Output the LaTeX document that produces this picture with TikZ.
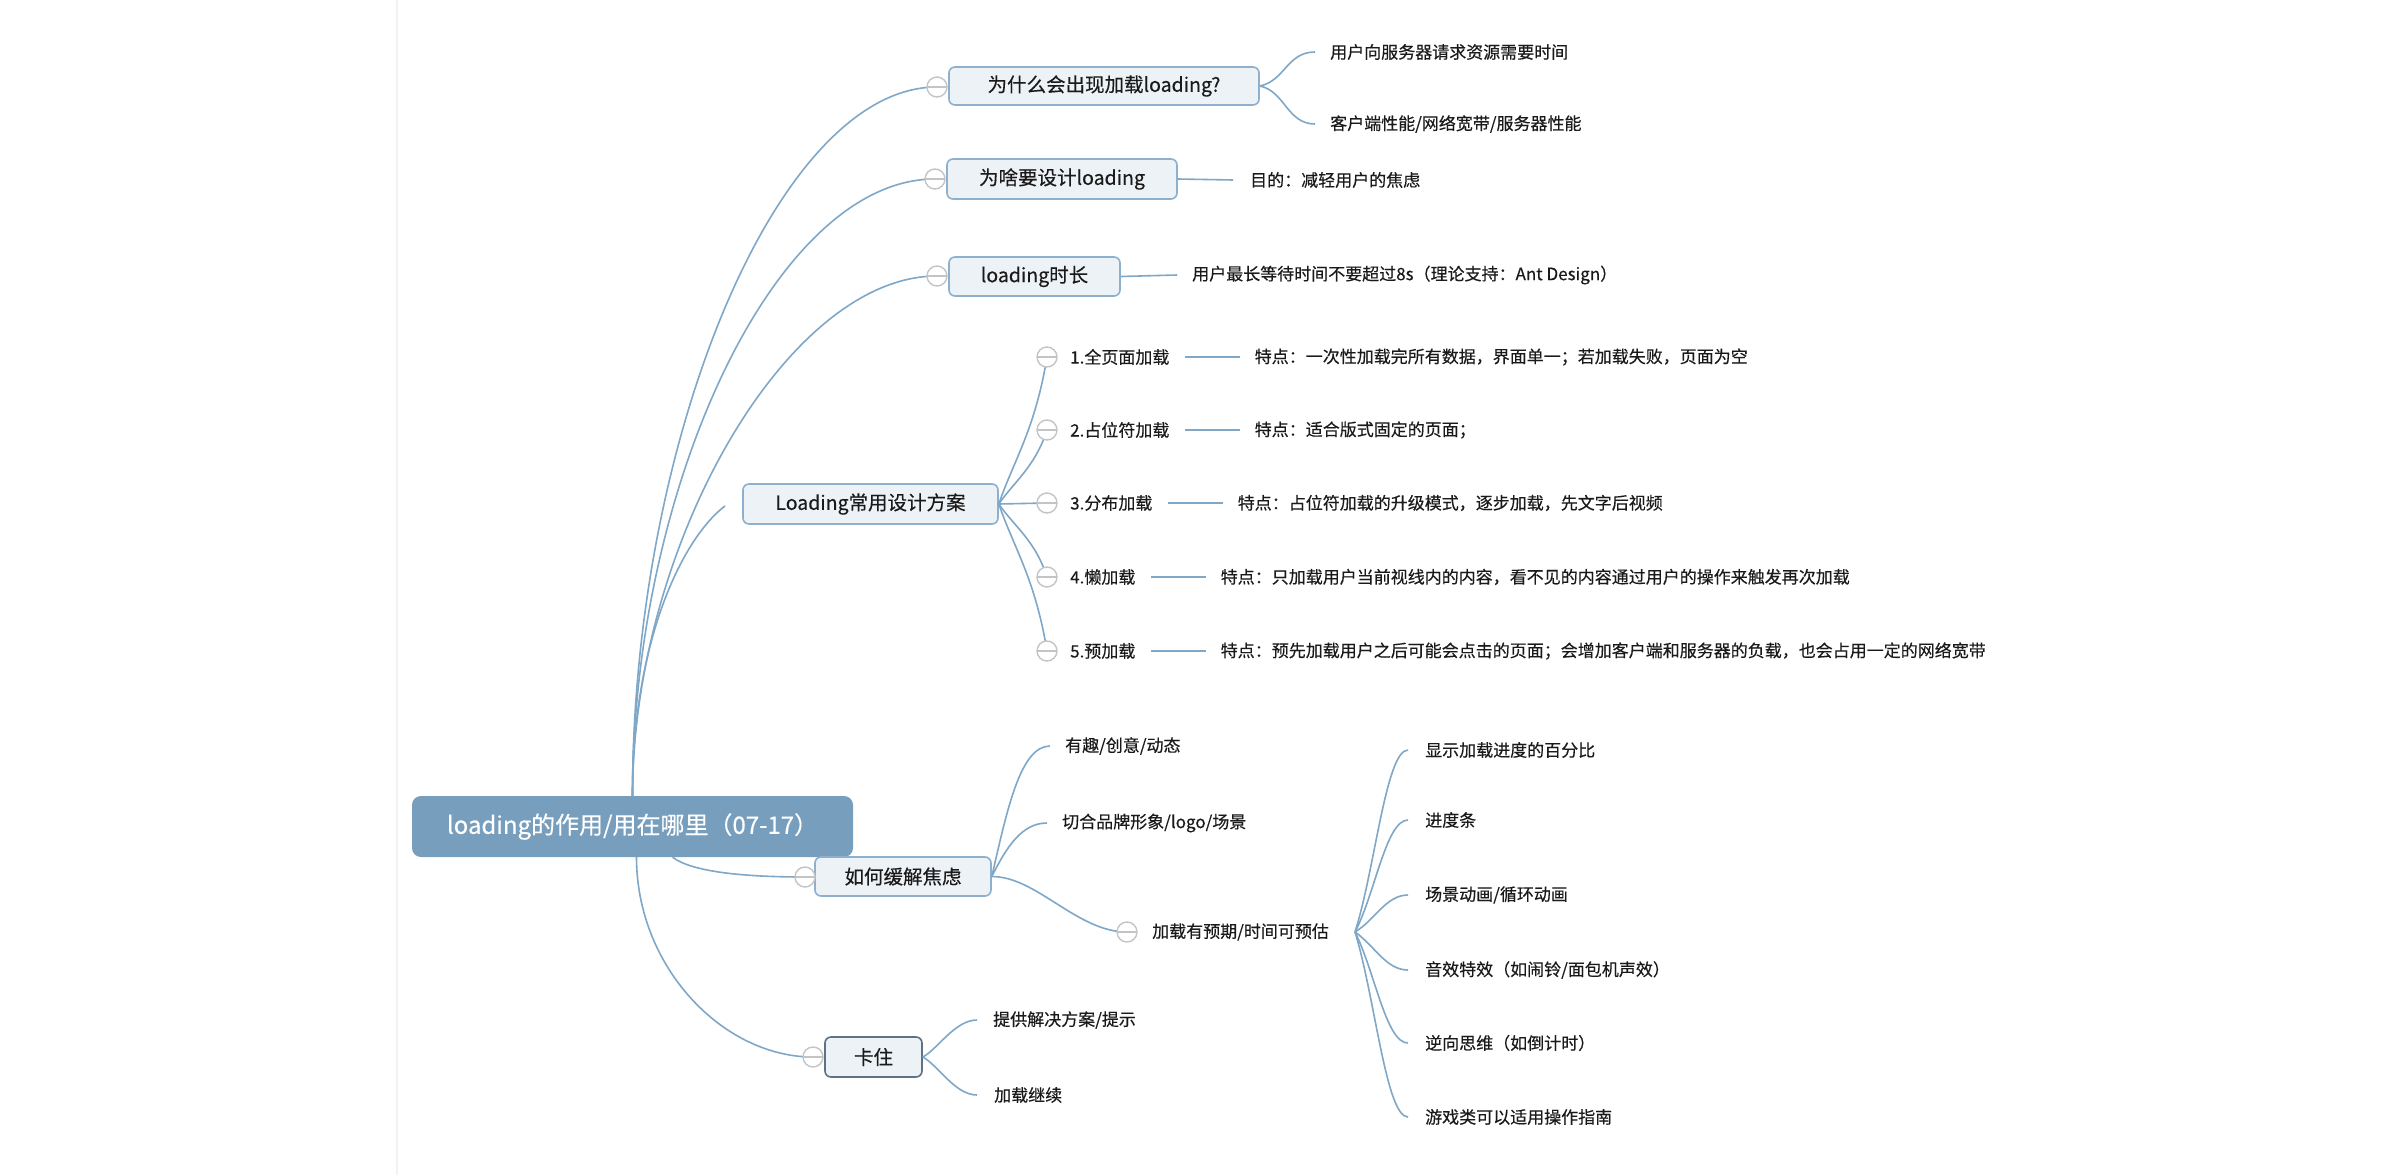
\documentclass[tikz,border=0pt]{standalone}
\usepackage{fontspec}
\setmainfont{Noto Sans CJK SC}[UprightFeatures={FakeBold=0.35}]
\definecolor{lnk}{HTML}{7FA7C7}
\definecolor{boxfill}{HTML}{EDF2F6}
\definecolor{boxdraw}{HTML}{8DB0CE}
\definecolor{rootfill}{HTML}{779FBD}
\definecolor{circ}{HTML}{C4C4C4}
\definecolor{txt}{HTML}{1A1A1A}
\definecolor{selb}{HTML}{5E7185}
\definecolor{edge}{HTML}{F2F2F2}
\begin{document}
\begin{tikzpicture}[x=1pt,y=-1pt,
  branch/.style={draw=boxdraw, fill=boxfill, line width=1.6pt, rounded corners=6pt, inner sep=0pt, font=\fontsize{19.5}{24}\selectfont, text=txt},
  rootbox/.style={fill=rootfill, rounded corners=9pt, text=white, font=\fontsize{24}{29}\selectfont, minimum width=441pt, minimum height=61pt, inner sep=0pt},
  leaf/.style={anchor=west, inner sep=0pt, font=\fontsize{17}{21}\selectfont, text=txt},
  lnkline/.style={draw=lnk, line width=1.6pt},
  fold/.style={circle, draw=circ, fill=white, line width=1.4pt, minimum size=20pt, inner sep=0pt,
    path picture={\draw[circ, line width=1.4pt] (path picture bounding box.west) -- (path picture bounding box.east);}}
]
\useasboundingbox (0,0) rectangle (2393,1175);
\fill[white] (0,0) rectangle (2393,1175);
\draw[edge, line width=1.2pt] (397,0) -- (397,1175);

% root and main branches
\node[rootbox] (root) at (632.5,826.5) {loading的作用/用在哪里（07-17）};
\node[branch, minimum width=310pt, minimum height=38pt] (b1) at (1104,86) {为什么会出现加载loading?};
\node[branch, minimum width=230pt, minimum height=40pt] (b2) at (1062,179) {为啥要设计loading};
\node[branch, minimum width=171pt, minimum height=39pt] (b3) at (1034.5,276.5) {loading时长};
\node[branch, minimum width=255pt, minimum height=40pt] (b4) at (870.5,504) {Loading常用设计方案};
\node[branch, minimum width=176pt, minimum height=39pt] (b5) at (903,876.5) {如何缓解焦虑};
\node[branch, draw=selb, minimum width=97pt, minimum height=40pt] (b6) at (873.5,1057) {卡住};

\coordinate (p1) at (937,87);
\coordinate (p2) at (935,179);
\coordinate (p3) at (937,276);
\coordinate (p4) at (725,506);
\coordinate (p5) at (805,877);
\coordinate (p6) at (813,1057);

\draw[lnkline] (root.north) .. controls +(0,-355) and +(-160,0) .. (p1);
\draw[lnkline] (root.north) .. controls +(0,-308) and +(-160,0) .. (p2);
\draw[lnkline] (root.north) .. controls +(0,-250) and +(-150,0) .. (p3);
\draw[lnkline] (root.north) .. controls +(0,-160) and +(-40,30) .. (p4);
\draw[lnkline] ([xshift=40pt]root.south) .. controls +(20,15) and +(-60,0) .. (p5);
\draw[lnkline] ([xshift=4pt]root.south) .. controls +(0,110) and +(-90,0) .. (p6);

\node[fold] (f1) at (p1) {};
\node[fold] (f2) at (p2) {};
\node[fold] (f3) at (p3) {};
\node[fold] (f5) at (p5) {};
\node[fold] (f6) at (p6) {};

% branch 1 leaves
\node[leaf] (t11) at (1330,52) {用户向服务器请求资源需要时间};
\node[leaf] (t12) at (1330,124) {客户端性能/网络宽带/服务器性能};
\draw[lnkline] (b1.east) .. controls +(25,-5) and +(-28,0) .. ([xshift=-15pt]t11.west);
\draw[lnkline] (b1.east) .. controls +(25,5) and +(-28,0) .. ([xshift=-15pt]t12.west);

% branch 2, 3 leaves
\node[leaf] (t21) at (1250,180) {目的：减轻用户的焦虑};
\draw[lnkline] (b2.east) -- ([xshift=-17pt]t21.west);
\node[leaf] (t31) at (1192,275) {用户最长等待时间不要超过8s（理论支持：Ant Design）};
\draw[lnkline] (b3.east) -- ([xshift=-15pt]t31.west);

% branch 4 sub-branches
\coordinate (q1) at (1047,357);
\coordinate (q2) at (1047,430);
\coordinate (q3) at (1047,503);
\coordinate (q4) at (1047,577);
\coordinate (q5) at (1047,651);
\draw[lnkline] (b4.east) .. controls +(15,-44) and +(-12,73) .. (q1);
\draw[lnkline] (b4.east) .. controls +(15,-22) and +(-12,37) .. (q2);
\draw[lnkline] (b4.east) -- (q3);
\draw[lnkline] (b4.east) .. controls +(15,22) and +(-12,-37) .. (q4);
\draw[lnkline] (b4.east) .. controls +(15,44) and +(-12,-73) .. (q5);
\node[fold] (g1) at (q1) {};
\node[fold] (g2) at (q2) {};
\node[fold] (g3) at (q3) {};
\node[fold] (g4) at (q4) {};
\node[fold] (g5) at (q5) {};

\node[leaf] (s1) at (1070,357) {1.全页面加载};
\node[leaf] (s2) at (1070,430) {2.占位符加载};
\node[leaf] (s3) at (1070,503) {3.分布加载};
\node[leaf] (s4) at (1070,577) {4.懒加载};
\node[leaf] (s5) at (1070,651) {5.预加载};
\node[leaf] (d1) at ([xshift=85pt]s1.east) {特点：一次性加载完所有数据，界面单一；若加载失败，页面为空};
\node[leaf] (d2) at ([xshift=85pt]s2.east) {特点：适合版式固定的页面；};
\node[leaf] (d3) at ([xshift=85pt]s3.east) {特点：占位符加载的升级模式，逐步加载，先文字后视频};
\node[leaf] (d4) at ([xshift=85pt]s4.east) {特点：只加载用户当前视线内的内容，看不见的内容通过用户的操作来触发再次加载};
\node[leaf] (d5) at ([xshift=85pt]s5.east) {特点：预先加载用户之后可能会点击的页面；会增加客户端和服务器的负载，也会占用一定的网络宽带};
\foreach \i in {1,...,5}{
  \draw[lnkline] ([xshift=15pt]s\i.east) -- ([xshift=-15pt]d\i.west);
}

% branch 5
\node[leaf] (h1) at (1065,746) {有趣/创意/动态};
\node[leaf] (h2) at (1062,823) {切合品牌形象/logo/场景};
\coordinate (pL) at (1127,932);
\draw[lnkline] (b5.east) .. controls +(15,-65) and +(-30,0) .. ([xshift=-15pt]h1.west);
\draw[lnkline] (b5.east) .. controls +(15,-30) and +(-25,0) .. ([xshift=-15pt]h2.west);
\draw[lnkline] (b5.east) .. controls +(45,0) and +(-50,0) .. (pL);
\node[fold] (fL) at (pL) {};
\node[leaf] (L) at (1152,932) {加载有预期/时间可预估};

\node[leaf] (k1) at (1425,750) {显示加载进度的百分比};
\node[leaf] (k2) at (1425,820) {进度条};
\node[leaf] (k3) at (1425,895) {场景动画/循环动画};
\node[leaf] (k4) at (1425,970) {音效特效（如闹铃/面包机声效）};
\node[leaf] (k5) at (1425,1043) {逆向思维（如倒计时）};
\node[leaf] (k6) at (1425,1117) {游戏类可以适用操作指南};
\coordinate (Lo) at (1355,932);
\draw[lnkline] (Lo) .. controls +(20,-63) and +(-22,0) .. ([xshift=-17pt]k1.west);
\draw[lnkline] (Lo) .. controls +(20,-38) and +(-22,0) .. ([xshift=-17pt]k2.west);
\draw[lnkline] (Lo) .. controls +(20,-12) and +(-22,0) .. ([xshift=-17pt]k3.west);
\draw[lnkline] (Lo) .. controls +(20,14) and +(-22,0) .. ([xshift=-17pt]k4.west);
\draw[lnkline] (Lo) .. controls +(20,40) and +(-22,0) .. ([xshift=-17pt]k5.west);
\draw[lnkline] (Lo) .. controls +(20,65) and +(-22,0) .. ([xshift=-17pt]k6.west);

% branch 6
\node[leaf] (r1) at (993,1020) {提供解决方案/提示};
\node[leaf] (r2) at (994,1095) {加载继续};
\draw[lnkline] (b6.east) .. controls +(15,-8) and +(-22,0) .. ([xshift=-16pt]r1.west);
\draw[lnkline] (b6.east) .. controls +(15,8) and +(-22,0) .. ([xshift=-17pt]r2.west);
\end{tikzpicture}
\end{document}
